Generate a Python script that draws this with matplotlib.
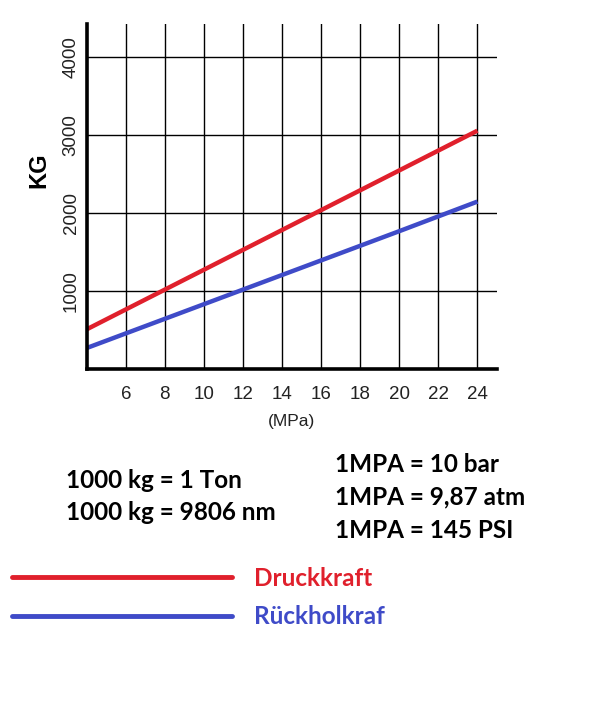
import matplotlib.pyplot as plt
from matplotlib.lines import Line2D

# data
pressure = [4, 8, 12, 16, 20, 24]              # MPa
druckkraft = [510, 1020, 1530, 2040, 2550, 3060]   # KG
rueckholkraft = [270, 645, 1020, 1395, 1770, 2150]  # KG
x_ticks = [6, 8, 10, 12, 14, 16, 18, 20, 22, 24]
y_ticks = [1000, 2000, 3000, 4000]
series_names = ['Druckkraft', 'Rückholkraf']
series_colors = ['#e0202c', '#3f4bc8']
notes_left = ['1000 kg = 1 Ton', '1000 kg = 9806 nm']
notes_right = ['1MPA = 10 bar', '1MPA = 9,87 atm', '1MPA = 145 PSI']

fig = plt.figure(figsize=(5.98, 7.18), dpi=100)
ax = fig.add_axes([0.145, 0.486, 0.686, 0.4806])

ax.plot(pressure, druckkraft, color=series_colors[0], lw=3.2, solid_capstyle='butt', zorder=3)
ax.plot(pressure, rueckholkraft, color=series_colors[1], lw=3.2, solid_capstyle='butt', zorder=3)

ax.set_xlim(4, 25)
ax.set_ylim(0, 4430)
ax.set_xticks(x_ticks)
ax.set_yticks(y_ticks)
ax.grid(True, color='black', lw=1.0)
ax.set_axisbelow(True)
for s in ['top', 'right']:
    ax.spines[s].set_visible(False)
for s in ['left', 'bottom']:
    ax.spines[s].set_linewidth(2.6)
    ax.spines[s].set_zorder(4)
ax.tick_params(axis='x', length=0, pad=12, labelsize=13.5)
ax.tick_params(axis='y', length=0, pad=5, labelsize=13.5, labelrotation=90)
for lab in ax.get_xticklabels() + ax.get_yticklabels():
    lab.set_family('Liberation Sans')
    lab.set_color('#222222')
for lab in ax.get_yticklabels():
    lab.set_va('center')

ax.set_ylabel('KG', fontsize=17, fontweight='bold', family='Liberation Sans')
ax.yaxis.set_label_coords(-0.088, 0.577)
ax.set_xlabel('(MPa)', fontsize=12.5, family='Liberation Sans', color='#222222', labelpad=8)

W, H = 598, 718
# conversion notes
for i, t in enumerate(notes_left):
    fig.text(66 / W, 1 - (481 + 32 * i) / H, t, fontsize=17.5, fontweight='bold',
             family='Lato', va='center', ha='left')
for i, t in enumerate(notes_right):
    fig.text(335 / W, 1 - (464 + 33 * i) / H, t, fontsize=17.5, fontweight='bold',
             family='Lato', va='center', ha='left')

# hand drawn legend under the notes
for i, (name, col) in enumerate(zip(series_names, series_colors)):
    y = 1 - (577 + 39 * i) / H
    fig.add_artist(Line2D([12 / W, 232 / W], [y, y], color=col, lw=3.5,
                          solid_capstyle='round', transform=fig.transFigure))
    fig.text(254 / W, y - 1 / H, name, color=col, fontsize=17.5, fontweight='bold',
             family='Lato', va='center', ha='left')

fig.savefig('out.png', dpi=100)
